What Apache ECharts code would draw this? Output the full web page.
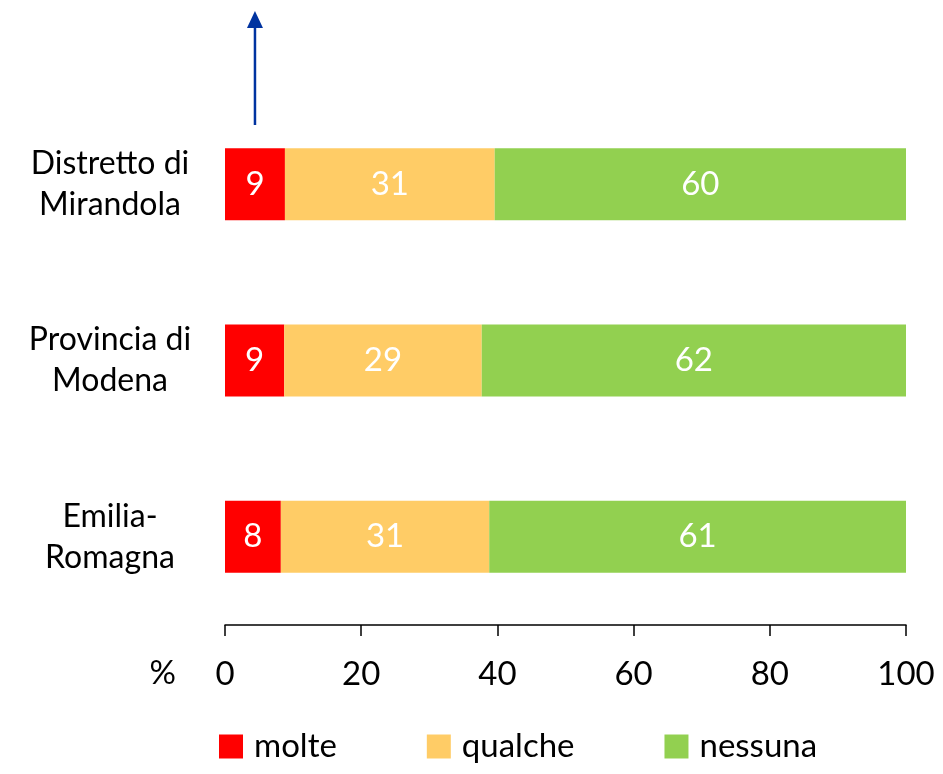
<!DOCTYPE html>
<html><head><meta charset="utf-8">
<script src="https://cdn.jsdelivr.net/npm/echarts@6/dist/echarts.min.js"></script>
<style>html,body{margin:0;padding:0;background:#fff}#c{width:943px;height:774px}</style>
</head><body><div id="c"></div>
<script>
const categories = ['Distretto di\nMirandola', 'Provincia di\nModena', 'Emilia-\nRomagna'];
const molte = [8.8, 8.7, 8.2];
const qualche = [30.8, 29.0, 30.6];
const nessuna = [60.4, 62.3, 61.2];
const xTicks = [0, 20, 40, 60, 80, 100];
const seriesNames = ['molte', 'qualche', 'nessuna'];
const colors = ['#FF0000', '#FFCC66', '#92D050'];
const axisUnit = '%';
const arrowX = 4.4;

const FONT = 'Lato, "Liberation Sans", sans-serif';
const FS = 33;
const chart = echarts.init(document.getElementById('c'), null, {renderer: 'canvas'});
const label = {show: true, position: 'inside', color: '#fff', fontSize: FS, fontFamily: FONT,
  formatter: p => Math.round(p.value)};
const mk = (name, data, color) => ({
  name, type: 'bar', stack: 't', data, barWidth: 72, itemStyle: {color}, label,
  emphasis: {disabled: true}
});
chart.setOption({
  animation: false,
  textStyle: {fontFamily: FONT},
  grid: {left: 225, right: 37, top: 96, bottom: 149, containLabel: false},
  xAxis: {
    type: 'value', min: xTicks[0], max: xTicks[xTicks.length - 1], interval: 20,
    splitLine: {show: false},
    axisLine: {show: true, lineStyle: {color: '#000', width: 1.5}},
    axisTick: {show: true, length: 11, lineStyle: {color: '#000', width: 1.5}},
    axisLabel: {color: '#000', fontSize: FS, fontFamily: FONT, margin: 33}
  },
  yAxis: {
    type: 'category', data: categories, inverse: true,
    axisLine: {show: false}, axisTick: {show: false},
    axisLabel: {color: '#000', fontSize: 32, fontFamily: FONT, lineHeight: 41, align: 'center', margin: 115}
  },
  legend: {
    bottom: 6, left: 214, icon: 'rect', itemWidth: 24, itemHeight: 24, itemGap: 90,
    textStyle: {color: '#000', fontSize: FS, fontFamily: FONT, padding: [0, 0, 0, 6]},
    data: seriesNames
  },
  series: [mk(seriesNames[0], molte, colors[0]), mk(seriesNames[1], qualche, colors[1]), mk(seriesNames[2], nessuna, colors[2])]
});
const ax = chart.convertToPixel({xAxisIndex: 0}, arrowX);
const x0 = chart.convertToPixel({xAxisIndex: 0}, xTicks[0]);
chart.setOption({graphic: [
  {type: 'line', shape: {x1: ax, y1: 125, x2: ax, y2: 26}, style: {stroke: '#0033A0', lineWidth: 2.5}},
  {type: 'polygon', shape: {points: [[ax, 11], [ax - 8, 28], [ax + 8, 28]]}, style: {fill: '#0033A0'}},
  {type: 'text', x: x0 - 49, y: 673, style: {text: axisUnit, fill: '#000', font: FS + 'px ' + FONT, align: 'right', verticalAlign: 'middle'}}
]});
</script></body></html>
